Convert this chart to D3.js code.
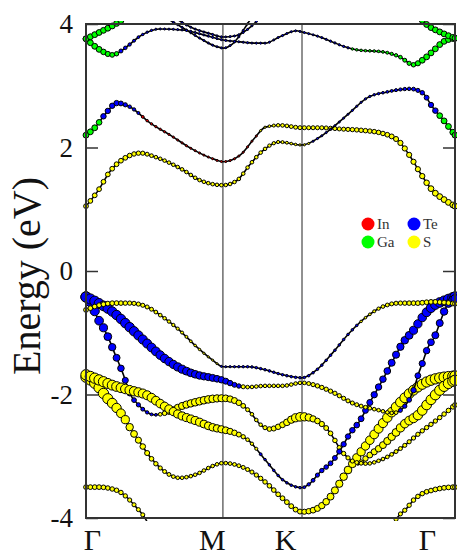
<!DOCTYPE html>
<html>
<head>
<meta charset="utf-8">
<script src="https://cdn.jsdelivr.net/npm/d3@7"></script>
<style>
  body { margin: 0; background: #fff; }
  text { font-family: "Liberation Serif", "DejaVu Serif", serif; }
</style>
</head>
<body>
<svg width="457" height="557"></svg>
<script>

// DATA ––––––––––––––––––––––––––––––––––––––––––––––––––––––––––––––––

var kTicks = [0, 0.878, 1.385, 2.366];
var kLabels = ["Γ", "M", "K", "Γ"];
var eTicks = [4, 2, 0, -2, -4];
var orbitals = ["In", "Te", "Ga", "S"];
var orbitalColors = ["#ff0000", "#0000ff", "#00ff00", "#ffff00"];

// each band point: [k, energy (eV), orbital weight, dominant orbital]
var bandT1a = [[0.00,3.76,0.45,"Ga"],[0.09,3.87,0.45,"Ga"],[0.19,4.00,0.45,"Ga"],[0.25,4.10,0.45,"Ga"]];
var bandT1b = [[2.14,4.10,0.45,"Ga"],[2.19,3.98,0.45,"Ga"],[2.27,3.87,0.45,"Ga"],[2.366,3.77,0.45,"Ga"]];
var bandT2 = [[0.00,3.76,0.45,"Ga"],[0.09,3.58,0.45,"Ga"],[0.17,3.50,0.33,"Ga"],[0.25,3.61,0.2,"Te"],
  [0.35,3.81,0.08,"Te"],[0.47,3.92,0.03,"Te"],[0.63,3.90,0.03,"Te"],[0.76,3.82,0.03,"Te"],
  [0.88,3.74,0.03,"Te"],[0.99,3.71,0.03,"Te"],[1.08,3.69,0.03,"Te"],[1.15,3.69,0.03,"Te"],
  [1.24,3.79,0.03,"Te"],[1.35,3.89,0.03,"Te"],[1.385,3.87,0.03,"Te"],[1.50,3.79,0.03,"Te"],
  [1.58,3.71,0.05,"Te"],[1.66,3.63,0.05,"Te"],[1.74,3.58,0.08,"Ga"],[1.90,3.55,0.1,"Ga"],
  [2.01,3.47,0.2,"Ga"],[2.10,3.34,0.3,"Ga"],[2.16,3.42,0.45,"Ga"],[2.22,3.55,0.45,"Ga"],
  [2.29,3.71,0.45,"Ga"],[2.366,3.77,0.45,"Ga"]];
var bandT3 = [[0.54,4.06,0.03,"Te"],[0.62,3.94,0.03,"Te"],[0.73,3.77,0.03,"Te"],[0.83,3.64,0.03,"Te"],
  [0.88,3.61,0.03,"Te"],[0.94,3.68,0.03,"Te"],[1.03,3.98,0.03,"Te"],[1.06,4.10,0.03,"Te"]];
var bandT4 = [[0.57,4.10,0.03,"Te"],[0.67,3.95,0.03,"Te"],[0.80,3.84,0.03,"Te"],[0.88,3.79,0.03,"Te"],
  [0.96,3.81,0.03,"Te"],[1.05,3.94,0.03,"Te"],[1.10,4.06,0.03,"Te"]];

var bandC1 = [[0.00,1.05,0.33,"S"],[0.08,1.31,0.33,"S"],[0.15,1.60,0.33,"S"],[0.25,1.83,0.33,"S"],
  [0.35,1.91,0.28,"S"],[0.44,1.85,0.2,"S"],[0.62,1.64,0.2,"S"],[0.73,1.47,0.2,"S"],
  [0.88,1.39,0.2,"S"],[0.97,1.47,0.2,"S"],[1.05,1.72,0.2,"S"],[1.13,1.94,0.2,"S"],
  [1.24,2.09,0.15,"S"],[1.385,2.04,0.05,"S"],[1.50,2.17,0.03,"Te"],[1.58,2.32,0.03,"Te"],
  [1.69,2.56,0.03,"Te"],[1.80,2.80,0.05,"Te"],[1.93,2.90,0.1,"Te"],[2.08,2.95,0.2,"Te"],
  [2.16,2.88,0.3,"Te"],[2.22,2.66,0.4,"Te"],[2.29,2.45,0.45,"Ga"],[2.366,2.20,0.45,"Ga"]];
var bandC2 = [[0.00,2.20,0.45,"Ga"],[0.06,2.33,0.45,"Ga"],[0.12,2.53,0.4,"Te"],[0.20,2.72,0.4,"Te"],
  [0.28,2.66,0.2,"Te"],[0.41,2.40,0.06,"In"],[0.54,2.20,0.04,"In"],[0.67,1.99,0.03,"In"],
  [0.80,1.83,0.03,"In"],[0.88,1.77,0.03,"In"],[0.99,1.88,0.03,"In"],[1.08,2.15,0.03,"In"],
  [1.15,2.33,0.05,"S"],[1.24,2.36,0.2,"S"],[1.385,2.32,0.25,"S"],[1.50,2.32,0.25,"S"],
  [1.63,2.30,0.25,"S"],[1.76,2.28,0.3,"S"],[1.90,2.23,0.3,"S"],[2.01,2.09,0.38,"S"],
  [2.08,1.85,0.38,"S"],[2.14,1.60,0.38,"S"],[2.22,1.31,0.45,"S"],[2.30,1.15,0.45,"S"],
  [2.366,1.05,0.45,"S"]];

var bandV1 = [[0.00,-0.63,0.33,"S"],[0.09,-0.55,0.33,"S"],[0.19,-0.52,0.33,"S"],[0.28,-0.52,0.28,"S"],
  [0.39,-0.58,0.25,"S"],[0.49,-0.74,0.2,"S"],[0.60,-0.96,0.15,"S"],[0.71,-1.23,0.08,"S"],
  [0.81,-1.44,0.03,"S"],[0.88,-1.55,0.03,"Te"],[1.04,-1.55,0.08,"Te"],[1.15,-1.60,0.08,"Te"],
  [1.26,-1.68,0.08,"Te"],[1.385,-1.73,0.08,"Te"],[1.48,-1.60,0.08,"Te"],[1.58,-1.33,0.08,"Te"],
  [1.69,-1.00,0.08,"Te"],[1.80,-0.74,0.08,"S"],[1.90,-0.58,0.2,"S"],[2.01,-0.52,0.28,"S"],
  [2.12,-0.52,0.33,"S"],[2.22,-0.50,0.33,"S"],[2.366,-0.53,0.33,"S"]];
var bandV2 = [[0.00,-0.42,0.95,"Te"],[0.08,-0.52,0.9,"Te"],[0.17,-0.66,0.85,"Te"],[0.28,-0.91,0.85,"Te"],
  [0.39,-1.17,0.8,"Te"],[0.49,-1.39,0.75,"Te"],[0.60,-1.57,0.7,"Te"],[0.71,-1.68,0.65,"Te"],
  [0.81,-1.73,0.58,"Te"],[0.88,-1.77,0.5,"Te"],[0.96,-1.85,0.33,"Te"],[1.04,-1.88,0.2,"S"],
  [1.15,-1.86,0.2,"S"],[1.26,-1.86,0.2,"S"],[1.385,-1.81,0.2,"S"],[1.47,-1.85,0.28,"S"],
  [1.58,-1.96,0.28,"S"],[1.71,-2.14,0.25,"S"],[1.87,-2.25,0.2,"S"],[1.97,-2.30,0.2,"S"],
  [2.05,-2.17,0.28,"Te"],[2.10,-1.93,0.4,"Te"],[2.13,-1.68,0.45,"Te"],[2.16,-1.47,0.5,"Te"],
  [2.19,-1.25,0.52,"Te"],[2.24,-1.04,0.58,"Te"],[2.27,-0.83,0.58,"Te"],[2.31,-0.58,0.65,"Te"],
  [2.366,-0.45,0.7,"Te"]];
var bandS = [[0.00,-0.42,0.95,"Te"],[0.04,-0.55,0.85,"Te"],[0.07,-0.74,0.8,"Te"],[0.11,-0.91,0.7,"Te"],
  [0.15,-1.12,0.65,"Te"],[0.18,-1.31,0.6,"Te"],[0.21,-1.49,0.55,"Te"],[0.24,-1.68,0.5,"Te"],
  [0.28,-1.98,0.4,"Te"],[0.33,-2.15,0.28,"Te"],[0.38,-2.27,0.2,"Te"],[0.44,-2.33,0.08,"Te"],
  [0.51,-2.30,0.33,"S"],[0.60,-2.20,0.58,"S"],[0.71,-2.12,0.65,"S"],[0.81,-2.07,0.65,"S"],
  [0.88,-2.06,0.58,"S"],[0.97,-2.12,0.45,"S"],[1.05,-2.28,0.2,"S"],[1.12,-2.49,0.2,"S"],
  [1.18,-2.56,0.33,"S"],[1.26,-2.49,0.45,"S"],[1.34,-2.38,0.7,"S"],[1.385,-2.36,0.78,"S"],
  [1.47,-2.41,0.45,"S"],[1.55,-2.57,0.33,"S"],[1.65,-2.95,0.28,"S"],[1.72,-3.09,0.25,"S"],
  [1.80,-3.12,0.2,"S"],[1.89,-3.06,0.2,"S"],[2.03,-2.85,0.25,"S"],[2.14,-2.62,0.28,"S"],
  [2.25,-2.41,0.28,"S"],[2.366,-2.17,0.33,"S"]];
var bandX = [[0.00,-1.68,0.95,"S"],[0.09,-1.77,0.95,"S"],[0.17,-1.85,0.9,"S"],[0.28,-1.93,0.85,"S"],
  [0.39,-2.01,0.8,"S"],[0.49,-2.17,0.75,"S"],[0.60,-2.33,0.7,"S"],[0.71,-2.43,0.7,"S"],
  [0.81,-2.53,0.65,"S"],[0.88,-2.57,0.6,"S"],[0.94,-2.61,0.45,"S"],[1.04,-2.74,0.2,"S"],
  [1.15,-3.06,0.08,"Te"],[1.26,-3.38,0.08,"Te"],[1.385,-3.51,0.08,"Te"],[1.44,-3.43,0.2,"Te"],
  [1.50,-3.26,0.28,"Te"],[1.58,-3.08,0.33,"Te"],[1.63,-2.90,0.38,"Te"],[1.69,-2.64,0.4,"Te"],
  [1.76,-2.41,0.45,"Te"],[1.80,-2.22,0.45,"Te"],[1.84,-2.04,0.5,"Te"],[1.90,-1.77,0.52,"Te"],
  [1.97,-1.44,0.58,"Te"],[2.03,-1.17,0.62,"Te"],[2.10,-0.96,0.7,"Te"],[2.16,-0.74,0.75,"Te"],
  [2.22,-0.58,0.85,"Te"],[2.31,-0.47,0.9,"Te"],[2.366,-0.42,0.95,"Te"]];
var bandA = [[0.00,-1.72,0.95,"S"],[0.07,-1.85,0.95,"S"],[0.13,-2.04,0.95,"S"],[0.19,-2.20,0.85,"S"],
  [0.24,-2.36,0.75,"S"],[0.29,-2.57,0.6,"S"],[0.35,-2.79,0.45,"S"],[0.41,-3.01,0.33,"S"],
  [0.49,-3.22,0.25,"S"],[0.60,-3.35,0.2,"S"],[0.71,-3.29,0.2,"S"],[0.81,-3.16,0.2,"S"],
  [0.88,-3.11,0.2,"S"],[1.04,-3.22,0.25,"S"],[1.15,-3.42,0.3,"S"],[1.26,-3.68,0.33,"S"],
  [1.385,-3.90,0.35,"S"],[1.46,-3.87,0.45,"S"],[1.55,-3.71,0.55,"S"],[1.61,-3.50,0.6,"S"],
  [1.67,-3.26,0.65,"S"],[1.74,-3.01,0.7,"S"],[1.82,-2.74,0.75,"S"],[1.93,-2.38,0.85,"S"],
  [2.01,-2.14,0.88,"S"],[2.10,-1.93,0.9,"S"],[2.21,-1.77,0.95,"S"],[2.366,-1.70,0.95,"S"]];
var bandB = [[1.74,-3.15,0.3,"S"],[1.82,-2.98,0.45,"S"],[1.89,-2.85,0.55,"S"],[1.97,-2.66,0.65,"S"],
  [2.05,-2.46,0.75,"S"],[2.13,-2.33,0.85,"S"],[2.21,-2.09,0.9,"S"],[2.30,-1.86,0.95,"S"],
  [2.366,-1.77,0.95,"S"]];
var bandL1 = [[0.00,-3.50,0.33,"S"],[0.09,-3.50,0.33,"S"],[0.15,-3.52,0.3,"S"],[0.22,-3.58,0.3,"S"],
  [0.26,-3.66,0.28,"S"],[0.32,-3.82,0.25,"S"],[0.37,-3.97,0.25,"S"],[0.39,-4.05,0.25,"S"]];
var bandL2 = [[1.98,-4.05,0.25,"S"],[2.01,-3.95,0.25,"S"],[2.05,-3.86,0.28,"S"],[2.10,-3.71,0.3,"S"],
  [2.16,-3.60,0.3,"S"],[2.22,-3.55,0.33,"S"],[2.30,-3.51,0.33,"S"],[2.366,-3.50,0.33,"S"]];

var bands = [bandT3, bandT4, bandT2, bandT1a, bandT1b, bandC2, bandC1,
  bandL1, bandL2, bandA, bandB, bandS, bandX, bandV2, bandV1];


// D3 ––––––––––––––––––––––––––––––––––––––––––––––––––––––––––––––––––

var draw = function() {

  var svg = d3.select("svg"),
    margin = {top: 24, right: 2, bottom: 39, left: 86},
    width = +svg.attr("width") - margin.left - margin.right,
    height = +svg.attr("height") - margin.top - margin.bottom,
    g = svg.append("g").attr("transform", "translate(" + margin.left + "," + margin.top + ")");

  var x = d3.scaleLinear().domain([0, 2.366]).range([0, width]);
  var y = d3.scaleLinear().domain([-4, 4]).range([height, 0]);
  var r = d3.scaleLinear().domain([0, 1]).range([0.9, 5.4]);
  var color = d3.scaleOrdinal().domain(orbitals).range(orbitalColors);

  svg.append("clipPath").attr("id", "plot")
    .append("rect").attr("x", -7).attr("y", -3).attr("width", width + 14).attr("height", height + 6);

  // high symmetry lines
  g.selectAll(".kline")
    .data(kTicks.slice(1, 3))
    .enter().append("line")
      .attr("x1", d => x(d)).attr("x2", d => x(d))
      .attr("y1", 0).attr("y2", height)
      .attr("stroke", "#222").attr("stroke-width", 1);

  var line = d3.line()
    .x(d => x(d[0]))
    .y(d => y(d[1]))
    .curve(d3.curveMonotoneX);

  var dk = 0.028;
  var grid = d3.range(0, 2.366, dk).concat([2.366]);

  var bandsG = g.append("g").attr("clip-path", "url(#plot)");

  bands.forEach(function(band) {
    var path = bandsG.append("path")
      .datum(band)
      .attr("fill", "none")
      .attr("stroke", "#000")
      .attr("stroke-width", 1.6)
      .attr("d", line);

    var node = path.node(), len = node.getTotalLength();
    var fine = d3.range(0, len, 0.5).map(l => node.getPointAtLength(l));
    fine.push(node.getPointAtLength(len));

    var w = d3.scaleLinear().domain(band.map(d => d[0])).range(band.map(d => d[2])).clamp(true);
    var near = d3.bisector(d => d[0]);
    var k0 = band[0][0], k1 = band[band.length - 1][0];

    var dots = [];
    grid.forEach(function(k) {
      if (k < k0 - 1e-6 || k > k1 + 1e-6) return;
      var px = x(k);
      var i = d3.bisector(p => p.x).left(fine, px);
      i = Math.max(1, Math.min(fine.length - 1, i));
      var a = fine[i - 1], b = fine[i];
      var t = b.x === a.x ? 0 : (px - a.x) / (b.x - a.x);
      var py = a.y + t * (b.y - a.y);
      if (py < -4 || py > height + 4) return;
      dots.push({x: px, y: py, w: w(k), o: band[near.center(band, k)][3]});
    });

    bandsG.append("g").selectAll("circle")
      .data(dots)
      .enter().append("circle")
        .attr("cx", d => d.x)
        .attr("cy", d => d.y)
        .attr("r", d => r(d.w))
        .attr("fill", d => color(d.o))
        .attr("stroke", "#000")
        .attr("stroke-width", 1);
  });

  // frame
  g.append("rect")
    .attr("width", width).attr("height", height)
    .attr("fill", "none").attr("stroke", "#333").attr("stroke-width", 2);

  // y axis
  var yAxis = g.append("g")
    .call(d3.axisLeft(y).tickValues(eTicks).tickSize(-12).tickPadding(13).tickFormat(d => String(d)));
  yAxis.select(".domain").remove();
  yAxis.selectAll("line").attr("stroke", "#333").attr("stroke-width", 1.5);
  yAxis.selectAll("text")
    .attr("font-family", "Liberation Serif")
    .attr("font-size", 27)
    .attr("fill", "#111");

  var yAxisR = g.append("g")
    .attr("transform", "translate(" + width + ",0)")
    .call(d3.axisRight(y).tickValues(eTicks).tickSize(-12).tickFormat(""));
  yAxisR.select(".domain").remove();
  yAxisR.selectAll("line").attr("stroke", "#333").attr("stroke-width", 1.5);

  // x axis
  var labelShift = [6, -11, -17, -28];
  var xAxis = g.append("g")
    .attr("transform", "translate(0," + height + ")")
    .call(d3.axisBottom(x).tickValues(kTicks).tickSize(0).tickFormat((d, i) => kLabels[i]));
  xAxis.select(".domain").remove();
  xAxis.selectAll("text")
    .attr("font-family", "Liberation Serif")
    .attr("font-size", 30)
    .attr("fill", "#111")
    .attr("y", 32)
    .attr("dy", 0)
    .attr("dx", (d, i) => labelShift[i]);

  svg.append("text")
    .attr("transform", "translate(40,276) rotate(-90)")
    .attr("text-anchor", "middle")
    .attr("font-family", "Liberation Serif")
    .attr("font-size", 40)
    .attr("fill", "#111")
    .text("Energy (eV)");

  // legend
  var legend = svg.append("g").attr("transform", "translate(368,224)");
  var item = legend.selectAll("g")
    .data(orbitals)
    .enter().append("g")
      .attr("transform", (d, i) => "translate(" + (i % 2) * 46 + "," + Math.floor(i / 2) * 18 + ")");
  item.append("circle")
    .attr("r", 6.5)
    .attr("fill", d => color(d));
  item.append("text")
    .attr("x", 9)
    .attr("y", 5)
    .attr("font-family", "Liberation Serif")
    .attr("font-size", 15)
    .attr("fill", "#333")
    .text(d => d);
};

draw();
</script>
</body>
</html>
